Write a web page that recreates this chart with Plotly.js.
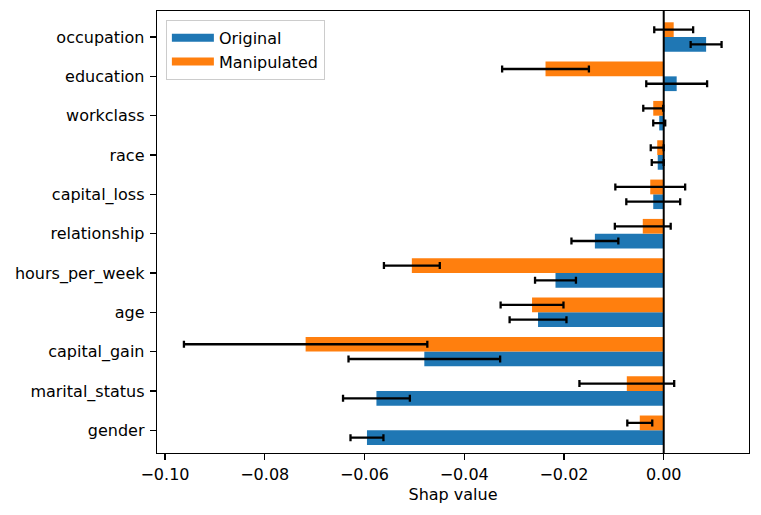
<!DOCTYPE html>
<html>
<head>
<meta charset="utf-8">
<script src="https://cdn.plot.ly/plotly-3.0.1.min.js"></script>
<style>html,body{margin:0;padding:0;background:#fff;}#chart{width:761px;height:515px;}</style>
</head>
<body>
<div id="chart"></div>
<script>
// Features, bottom to top
const features = ["gender","marital_status","capital_gain","age","hours_per_week","relationship","capital_loss","race","workclass","education","occupation"];
const originalMean = [-0.0595,-0.0576,-0.0480,-0.0252,-0.0217,-0.0138,-0.0021,-0.0012,-0.0009,0.0026,0.0085];
const originalErr  = [0.0033,0.0067,0.0152,0.0057,0.0041,0.0047,0.0054,0.0012,0.0012,0.0061,0.0031];
const manipMean    = [-0.0048,-0.0074,-0.0718,-0.0264,-0.0505,-0.0042,-0.0027,-0.0013,-0.0021,-0.0237,0.0020];
const manipErr     = [0.0025,0.0095,0.0244,0.0063,0.0056,0.0056,0.0070,0.0013,0.0020,0.0087,0.0039];
const xTicks = [-0.10,-0.08,-0.06,-0.04,-0.02,0.00];

const FONT = "DejaVu Sans, sans-serif";
const blue = "#1f77b4", orange = "#ff7f0e";
const errStyle = {type:"data", visible:true, color:"#000", thickness:2.3, width:3.5};

const traces = [
  {type:"bar", orientation:"h", name:"Original", y:features, x:originalMean,
   width:0.375, offset:-0.375, marker:{color:blue}, showlegend:false,
   error_x:Object.assign({array:originalErr}, errStyle)},
  {type:"bar", orientation:"h", name:"Manipulated", y:features, x:manipMean,
   width:0.375, offset:0, marker:{color:orange}, showlegend:false,
   error_x:Object.assign({array:manipErr}, errStyle)},
  {type:"scatter", mode:"lines", name:"Original", x:[null], y:[null],
   line:{color:blue, width:8}, showlegend:true, hoverinfo:"skip"},
  {type:"scatter", mode:"lines", name:"Manipulated", x:[null], y:[null],
   line:{color:orange, width:8}, showlegend:true, hoverinfo:"skip"}
];

const layout = {
  width:761, height:515,
  margin:{l:157, r:12, t:11, b:62},
  paper_bgcolor:"#fff", plot_bgcolor:"#fff",
  font:{family:FONT, size:16, color:"#000"},
  barmode:"overlay",
  showlegend:true,
  legend:{x:0.015, y:0.98, xanchor:"left", yanchor:"top",
          bgcolor:"rgba(255,255,255,0.8)", bordercolor:"#cccccc", borderwidth:1,
          font:{family:FONT, size:16, color:"#000"}, itemwidth:42, tracegroupgap:0},
  xaxis:{range:[-0.1016,0.0171], tickvals:xTicks, tickformat:".2f",
         ticks:"outside", ticklen:6, tickwidth:1.3, tickcolor:"#000",
         showgrid:false, zeroline:false, showline:true, linecolor:"#000", linewidth:1.3, mirror:true,
         title:{text:"Shap value", font:{family:FONT, size:16, color:"#000"}, standoff:6},
         tickfont:{family:FONT, size:16, color:"#000"}},
  yaxis:{type:"category", categoryorder:"array", categoryarray:features,
         range:[-0.578,10.662], ticks:"outside", ticklen:6, tickwidth:1.3, tickcolor:"#000",
         showgrid:false, zeroline:false, showline:true, linecolor:"#000", linewidth:1.3, mirror:true,
         tickfont:{family:FONT, size:16, color:"#000"}, ticklabelstandoff:2},
  shapes:[{type:"line", xref:"x", yref:"paper", x0:0, x1:0, y0:0, y1:1,
           line:{color:"#000", width:2}, layer:"above"}]
};

Plotly.newPlot("chart", traces, layout, {staticPlot:true, displayModeBar:false});
</script>
</body>
</html>
